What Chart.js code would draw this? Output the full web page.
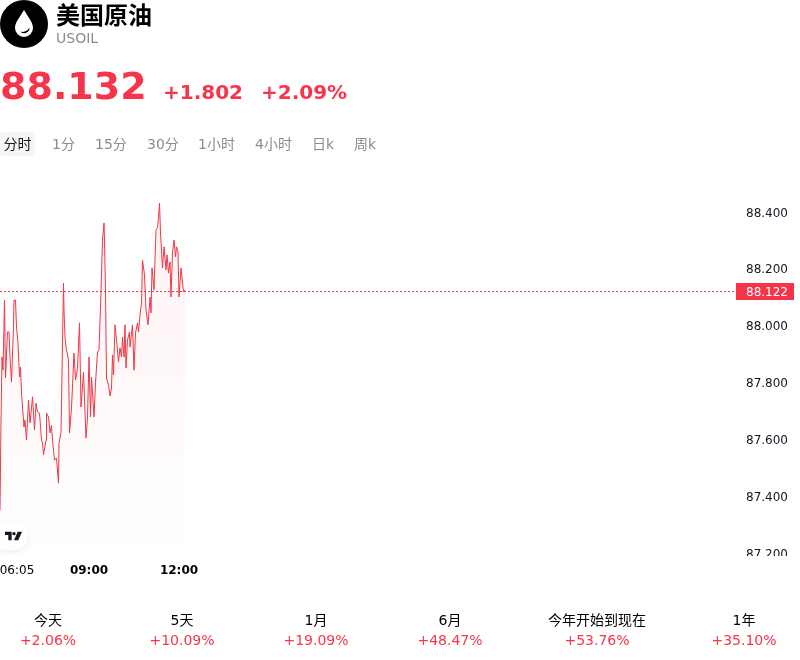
<!DOCTYPE html>
<html lang="zh">
<head>
<meta charset="utf-8">
<title>美国原油</title>
<script src="https://cdn.jsdelivr.net/npm/chart.js@4"></script>
<style>
  html, body { margin: 0; padding: 0; background: #fff; }
  body { width: 800px; height: 660px; position: relative; overflow: hidden;
         font-family: "DejaVu Sans", "Noto Sans CJK SC", sans-serif; color: #000; }
  .abs { position: absolute; white-space: nowrap; will-change: transform; }
  .logo { left: 0; top: 0; width: 48px; height: 48px; }
  .name { left: 56px; top: 1px; font-size: 24px; font-weight: 700; line-height: 30px; }
  .code { left: 56px; top: 30px; font-size: 14px; line-height: 17px; color: #8c8c8c; }
  .price { left: 0; top: 63px; font-size: 38px; font-weight: 700; line-height: 46px; color: #f7354a; }
  .chg { top: 80px; font-size: 20px; font-weight: 700; line-height: 24px; color: #f7354a; }
  .tab { top: 135px; font-size: 14px; line-height: 18px; color: #8c8c8c; }
  .tab.on { left: 0; top: 132px; width: 35px; height: 24px; line-height: 24px; text-align: center;
            background: #f5f5f5; border-radius: 4px; color: #131722; }
  #wrap { position: absolute; left: 0; top: 170px; width: 794px; height: 415px; }
  .tv { left: -10px; top: 522px; width: 38px; height: 28px; border-radius: 14px; background: #fff;
        box-shadow: 0 2px 6px rgba(0,0,0,.08); }
  .tvmark { left: 5px; top: 531px; width: 17px; height: 10px; }
  .st { transform: translateX(-50%); font-size: 14px; line-height: 18px; text-align: center; }
  .st b { display: block; font-weight: 400; color: #f7354a; margin-top: 2px; }
</style>
</head>
<body>
<svg class="abs logo" viewBox="0 0 48 48">
  <circle cx="24" cy="24" r="24" fill="#000"/>
  <path d="M24 10 C20 17 15 22 15 28 A9 9 0 0 0 33 28 C33 22 28 17 24 10 Z" fill="#fff"/>
  <path d="M20 31.5 A5.5 5.5 0 0 0 29.5 27.5 A8 8 0 0 1 20 31.5 Z" fill="#000"/>
</svg>
<div class="abs name">美国原油</div>
<div class="abs code">USOIL</div>
<div class="abs price">88.132</div>
<div class="abs chg" style="left:163px">+1.802</div>
<div class="abs chg" style="left:261px">+2.09%</div>

<div class="abs tab on">分时</div>
<div class="abs tab" style="left:52px">1分</div>
<div class="abs tab" style="left:95px">15分</div>
<div class="abs tab" style="left:147px">30分</div>
<div class="abs tab" style="left:198px">1小时</div>
<div class="abs tab" style="left:255px">4小时</div>
<div class="abs tab" style="left:312px">日k</div>
<div class="abs tab" style="left:354px">周k</div>

<div id="wrap"><canvas id="c" width="794" height="415"></canvas></div>

<div class="abs tv"></div>
<svg class="abs tvmark" viewBox="0 0 36 20">
  <path d="M0 1 H14 V19 H7 V8 H0 Z" fill="#131722"/>
  <circle cx="19" cy="5" r="3.6" fill="#131722"/>
  <path d="M27 1 H36 L28 19 H19 Z" fill="#131722"/>
</svg>

<div class="abs st" style="left:48px;top:611px">今天<b>+2.06%</b></div>
<div class="abs st" style="left:182px;top:611px">5天<b>+10.09%</b></div>
<div class="abs st" style="left:316px;top:611px">1月<b>+19.09%</b></div>
<div class="abs st" style="left:450px;top:611px">6月<b>+48.47%</b></div>
<div class="abs st" style="left:597px;top:611px">今年开始到现在<b>+53.76%</b></div>
<div class="abs st" style="left:744px;top:611px">1年<b>+35.10%</b></div>

<script>
// Session clock in minutes after midnight for each sampled quote.
const minutes = [
  362,364,366,368,371,373,377,380,382,385,
  389,390,393,395,398,401,403,405,410,412,
  415,419,422,425,427,431,434,437,441,445,
  447,449,454,455,459,462,465,467,471,475,
  479,480,484,485,489,490,492,494,499,501,
  505,510,513,517,521,524,529,534,537,540,
  543,545,550,553,557,560,563,567,570,571,
  573,575,579,582,585,587,589,592,595,599,
  602,605,607,610,612,614,617,621,622,627,
  630,633,637,639,642,645,647,651,654,658,
  662,664,666,670,674,677,679,681,683,687,
  690,694,696,699,702,704,707,710,713,715,
  718,720,724,729,732];

const prices = [
  87.354,87.671,87.892,87.846,88.092,87.818,87.980,87.980,87.892,87.804,
  87.997,88.092,88.092,87.997,87.941,87.822,87.857,87.766,87.646,87.671,
  87.600,87.741,87.660,87.713,87.752,87.636,87.730,87.699,87.695,87.600,
  87.590,87.548,87.600,87.695,87.681,87.625,87.653,87.600,87.530,87.537,
  87.449,87.590,87.628,87.730,88.152,88.057,87.962,87.927,87.882,87.625,
  87.713,87.906,87.811,87.853,88.012,87.716,87.839,87.607,87.681,87.892,
  87.681,87.822,87.681,87.801,87.910,87.917,88.068,88.303,88.363,88.300,
  88.128,87.818,87.794,87.755,87.783,87.899,87.829,88.005,87.952,87.875,
  87.924,87.892,87.962,87.892,88.005,87.853,87.952,87.980,87.927,88.005,
  87.846,87.977,88.012,87.980,88.040,88.082,88.233,88.180,88.057,88.005,
  88.103,88.047,88.205,88.128,88.339,88.346,88.381,88.433,88.328,88.205,
  88.279,88.198,88.251,88.187,88.226,88.103,88.261,88.303,88.244,88.279,
  88.261,88.103,88.205,88.121,88.128];

const priceTicks = [87.2, 87.4, 87.6, 87.8, 88.0, 88.2, 88.4];
const lastPrice = 88.122;
const timeTicks = [396, 540, 720];
const timeLabels = ['06:05', '09:00', '12:00'];

const UP = '#f23645';
const series = prices.map((p, i) => ({ x: minutes[i], y: p }));

// Price badge on the right edge and the clip of the lowest price label.
const priceTag = {
  id: 'priceTag',
  afterDraw(chart) {
    const { ctx, scales: { y }, width } = chart;
    const right = chart.chartArea.right;
    ctx.save();
    ctx.fillStyle = '#fff';
    ctx.fillRect(right, chart.chartArea.bottom - 2, width, 10);
    const py = y.getPixelForValue(lastPrice);
    ctx.fillStyle = '#f7354a';
    ctx.fillRect(right, Math.round(py) - 9, 58, 17);
    ctx.fillStyle = '#fff';
    ctx.font = '12px "DejaVu Sans"';
    ctx.textAlign = 'center';
    ctx.textBaseline = 'middle';
    ctx.fillText(lastPrice.toFixed(3), right + 31, Math.round(py) + 0.5);
    ctx.restore();
  }
};

new Chart(document.getElementById('c'), {
  type: 'line',
  data: {
    datasets: [
      {
        data: series,
        borderColor: UP,
        borderWidth: 1,
        pointRadius: 0,
        tension: 0,
        fill: 'start',
        backgroundColor(ctx) {
          const area = ctx.chart.chartArea;
          if (!area) return 'transparent';
          const g = ctx.chart.ctx.createLinearGradient(0, area.top, 0, area.bottom);
          g.addColorStop(0, 'rgba(242,54,69,0.07)');
          g.addColorStop(1, 'rgba(242,54,69,0)');
          return g;
        }
      },
      {
        data: [{ x: 362, y: lastPrice }, { x: 1834, y: lastPrice }],
        borderColor: '#dc3a50',
        borderWidth: 1,
        borderDash: [2, 2],
        pointRadius: 0,
        fill: false
      }
    ]
  },
  options: {
    responsive: false,
    animation: false,
    layout: { padding: 0 },
    plugins: { legend: { display: false }, tooltip: { enabled: false } },
    scales: {
      x: {
        type: 'linear',
        min: 362,
        max: 1834,
        grid: { display: false, drawTicks: false },
        border: { display: false },
        afterBuildTicks(axis) { axis.ticks = timeTicks.map(v => ({ value: v })); },
        afterFit(axis) {
          axis.height = 27;
          axis.paddingLeft = 0;
          axis.paddingRight = 0;
        },
        ticks: {
          autoSkip: false,
          maxRotation: 0,
          padding: 6,
          color: '#000',
          font: c => ({ family: '"DejaVu Sans"', size: 12, weight: c.index === 0 ? 400 : 700 }),
          callback: (v, i) => timeLabels[i]
        }
      },
      y: {
        type: 'linear',
        position: 'right',
        min: 87.186,
        max: 88.549,
        grid: { display: false, drawTicks: false },
        border: { display: false },
        afterBuildTicks(axis) { axis.ticks = priceTicks.map(v => ({ value: v })); },
        afterFit(axis) {
          axis.width = 58;
          axis.paddingTop = 0;
          axis.paddingBottom = 0;
        },
        ticks: {
          autoSkip: false,
          padding: 10,
          labelOffset: 1,
          color: '#131722',
          font: { family: '"DejaVu Sans"', size: 12 },
          callback: v => v.toFixed(3)
        }
      }
    }
  },
  plugins: [priceTag]
});
</script>
</body>
</html>
